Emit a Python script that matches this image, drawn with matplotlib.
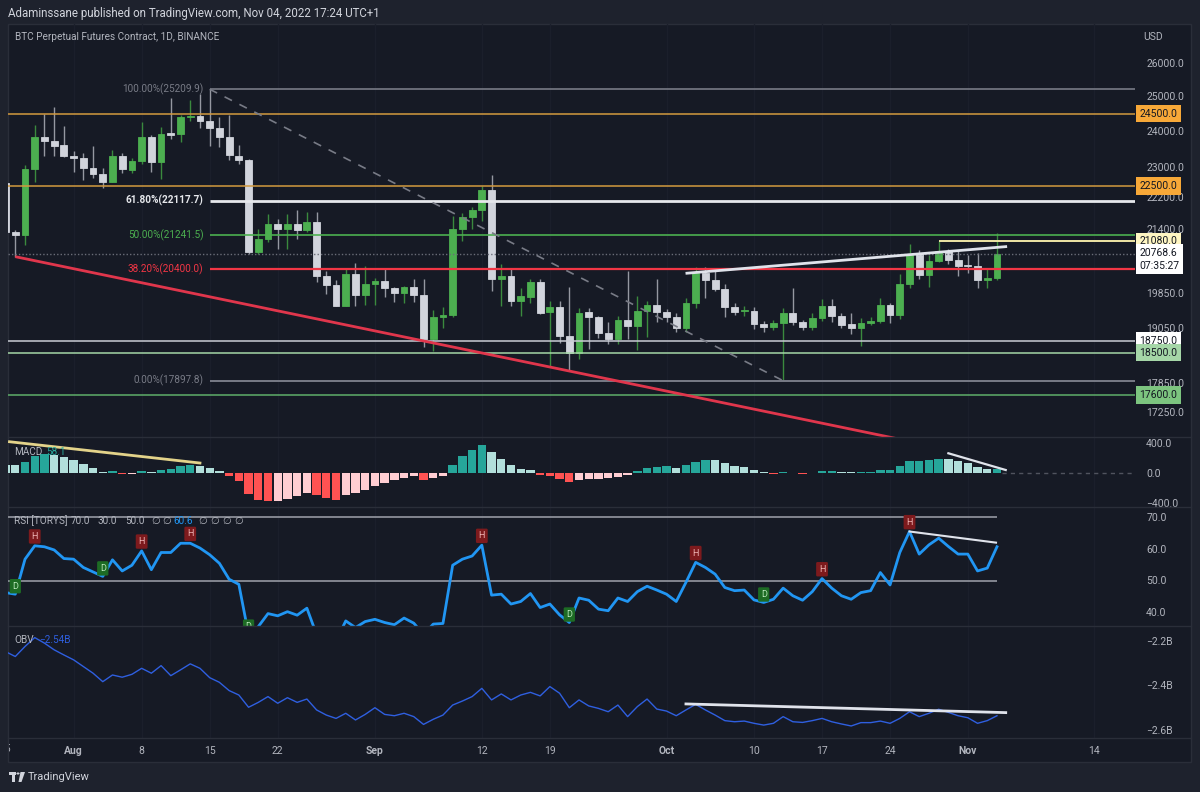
import numpy as np
import matplotlib
matplotlib.use('Agg')
import matplotlib.pyplot as plt
from matplotlib.ticker import FixedLocator, NullLocator, FuncFormatter
from matplotlib.transforms import blended_transform_factory, Bbox
from matplotlib.patches import Rectangle, Polygon, Circle
from matplotlib.lines import Line2D

plt.rcParams['font.family'] = ['Roboto', 'DejaVu Sans']

# ---- daily candles, Jul 25 .. Nov 4 2022 (index 0 = Jul 25) ----
opens = [22580, 21310, 21250, 22950, 23820, 23720, 23620, 23300, 23250, 22980,
         22820, 22610, 23300, 22940, 23180, 23820, 23150, 23940, 23920, 24400,
         24440, 24300, 24080, 23840, 23300, 23200, 20830, 21150, 21520, 21400,
         21520, 21370, 21560, 20250, 20030, 19550, 20280, 19800, 20050, 20130,
         19950, 19830, 19990, 19790, 18790, 19290, 19340, 21380, 21700, 21880,
         22400, 20170, 20230, 19650, 19740, 20090, 19400, 19520, 18870, 18480,
         19400, 19290, 18930, 18800, 19230, 19090, 19420, 19570, 19410, 19300,
         19050, 19620, 20320, 20140, 19940, 19520, 19430, 19430, 19130, 19060,
         19160, 19370, 19180, 19060, 19270, 19540, 19320, 19130, 19040, 19160,
         19210, 19560, 19330, 20050, 20770, 20260, 20590, 20840, 20620, 20500,
         20480, 20150, 20200]
highs = [22650, 21370, 23050, 24170, 24500, 24700, 24150, 23450, 23400, 23580,
         22970, 23460, 23380, 23250, 24250, 23900, 24110, 24950, 24450, 24900,
         25060, 25209.9, 24390, 24450, 23600, 23230, 21380, 21780, 21640, 21760,
         21880, 21820, 21830, 20360, 20150, 20420, 20550, 20480, 20200, 20440,
         19980, 20000, 20180, 20180, 19460, 19520, 21730, 21800, 21950, 22500,
         22790, 20530, 20400, 19950, 20180, 20180, 19650, 19650, 19990, 19500,
         19500, 19320, 19170, 19310, 20370, 19760, 19650, 20180, 19480, 19390,
         19720, 20460, 20460, 20430, 20050, 19620, 19530, 19520, 19200, 19230,
         19500, 19950, 19230, 19380, 19700, 19700, 19380, 19380, 19260, 19290,
         19720, 19620, 20280, 21020, 20880, 20750, 21080, 20900, 20850, 20750,
         20800, 20400, 21280]
lows = [21250, 20700, 21000, 22600, 23300, 23320, 23290, 22880, 22650, 22700,
        22450, 22600, 22850, 22850, 23100, 22880, 22680, 23790, 23700, 24290,
        24080, 23580, 23550, 23200, 23100, 20780, 20760, 21070, 20900, 20900,
        21150, 21320, 20100, 19810, 19550, 19550, 19530, 19560, 19570, 19750,
        19640, 19600, 19640, 18630, 18540, 19050, 19280, 21100, 21380, 21600,
        19880, 19530, 19550, 19320, 19600, 19350, 18200, 18700, 18110, 18350,
        18570, 18810, 18680, 18690, 18800, 18550, 18850, 19180, 19180, 18950,
        18960, 19500, 19730, 19880, 19300, 19330, 19310, 19030, 18960, 18990,
        17897.8, 19100, 18990, 19000, 19200, 19180, 19050, 18900, 18650, 19100,
        19150, 19160, 19250, 19960, 20180, 19970, 20570, 20540, 20250, 20320,
        19950, 19950, 20150]
closes = [21310, 21250, 22950, 23820, 23720, 23580, 23300, 23250, 22980, 22820,
          22610, 23300, 22950, 23180, 23820, 23150, 23920, 23900, 24400, 24440,
          24300, 24080, 23840, 23330, 23200, 20830, 21150, 21520, 21400, 21520,
          21370, 21560, 20250, 20030, 19550, 20280, 19800, 20050, 20130, 19950,
          19830, 19990, 19790, 18790, 19290, 19340, 21380, 21700, 21880, 22400,
          20170, 20230, 19650, 19770, 20090, 19370, 19520, 18870, 18480, 19370,
          19290, 18930, 18800, 19230, 19090, 19420, 19570, 19410, 19300, 19050,
          19620, 20320, 20140, 19940, 19520, 19410, 19440, 19130, 19060, 19160,
          19370, 19170, 19060, 19270, 19540, 19310, 19110, 19050, 19160, 19210,
          19560, 19330, 20050, 20770, 20260, 20590, 20840, 20620, 20480, 20480,
          20140, 20200, 20768.6]

macd_hist = [110, 102, 151, 222, 253, 245, 209, 169, 120, 67,
             13, 22, -12, -10, 31, 9, 40, 58, 89, 102,
             100, 67, 31, -36, -102, -276, -364, -378, -369, -342,
             -311, -267, -298, -333, -356, -298, -267, -222, -169, -133,
             -89, -67, -44, -89, -67, -44, 111, 222, 302, 378,
             276, 191, 111, 58, 44, -22, -36, -80, -120, -95,
             -80, -75, -70, -53, -22, 31, 67, 80, 89, 67,
             102, 147, 178, 169, 133, 98, 76, 40, 13, -9,
             13, 4, -13, -3, 31, 33, 18, 9, 13, 14,
             40, 42, 89, 160, 162, 173, 187, 182, 156, 129,
             80, 49, 58.1]

rsi = [46.2, 45.7, 56.7, 60.9, 60.6, 59.6, 56.9, 56.7, 54.1, 52.7,
       51.3, 56.5, 53.0, 54.8, 59.3, 53.4, 58.8, 58.8, 61.7, 61.7,
       60.2, 58.1, 55.4, 50.4, 48.8, 33.0, 35.5, 39.6, 38.9, 40.2,
       39.1, 41.3, 33.0, 32.0, 31.0, 37.3, 35.2, 37.1, 37.8, 36.8,
       36.1, 38.2, 36.6, 33.0, 36.3, 36.5, 54.8, 56.7, 57.7, 61.1,
       45.4, 45.7, 42.6, 43.4, 45.9, 41.5, 42.6, 39.2, 36.8, 44.5,
       43.8, 41.0, 40.5, 44.5, 43.4, 46.5, 48.2, 47.0, 45.7, 43.4,
       49.4, 55.7, 54.1, 52.0, 47.8, 46.8, 47.0, 43.9, 43.1, 44.1,
       47.6, 45.2, 43.8, 46.5, 50.6, 47.6, 45.2, 44.1, 46.2, 46.8,
       52.5, 48.6, 58.8, 65.4, 58.3, 61.2, 63.3, 60.7, 58.3, 58.3,
       53.0, 53.9, 60.6]
rsi_high_idx = [3, 14, 19, 49, 71, 84, 93]
rsi_low_idx = [1, 10, 25, 58, 78]

obv = [-2.248, -2.270, -2.225, -2.185, -2.210, -2.240, -2.263, -2.285, -2.315, -2.345,
       -2.383, -2.353, -2.363, -2.350, -2.323, -2.345, -2.311, -2.356, -2.330, -2.303,
       -2.323, -2.365, -2.386, -2.423, -2.443, -2.498, -2.476, -2.450, -2.480, -2.455,
       -2.476, -2.461, -2.510, -2.533, -2.548, -2.525, -2.555, -2.530, -2.500, -2.530,
       -2.536, -2.525, -2.540, -2.575, -2.552, -2.533, -2.488, -2.470, -2.450, -2.413,
       -2.465, -2.438, -2.465, -2.443, -2.431, -2.447, -2.405, -2.435, -2.500, -2.465,
       -2.492, -2.503, -2.518, -2.488, -2.540, -2.495, -2.461, -2.506, -2.515, -2.536,
       -2.510, -2.485, -2.510, -2.533, -2.558, -2.563, -2.560, -2.570, -2.578, -2.570,
       -2.540, -2.563, -2.566, -2.558, -2.548, -2.563, -2.573, -2.582, -2.567, -2.567,
       -2.560, -2.570, -2.548, -2.518, -2.540, -2.525, -2.507, -2.521, -2.536, -2.545,
       -2.570, -2.558, -2.536]

date_ticks = [7, 14, 21, 28, 38, 49, 56, 68, 77, 84, 91, 99, 112]
date_labels = ['Aug', '8', '15', '22', 'Sep', '12', '19', 'Oct', '10', '17', '24', 'Nov', '14']
month_labels = ['Aug', 'Sep', 'Oct', 'Nov']

price_ticks = [17250, 17850, 19050, 19850, 21400, 22200, 23000, 24000, 25000, 26000]

# drawing tools on the chart
fib_start = 21
fib_levels = [25209.9, 22117.7, 21241.5, 20400.0, 17897.8]
fib_labels = ['100.00%(25209.9)', '61.80%(22117.7)', '50.00%(21241.5)', '38.20%(20400.0)', '0.00%(17897.8)']
fib_colors = ['#787b86', '#e6e8ec', '#4caf50', '#f23645', '#787b86']
fib_widths = [1.2, 2.0, 1.2, 1.6, 1.4]

levels = [24500, 22500, 18750, 18500, 17600]
level_colors = ['#d39a3f', '#d39a3f', '#c9ccd4', '#a5d6a7', '#5fae6a']
level_boxes = ['#f7a838', '#f7a838', '#ffffff', '#a5d6a7', '#7cc47f']
last_price = 20768.6
countdown = '07:35:27'
res_level, res_start = 21080, 96

red_trend_x, red_trend_y = [1.14, 95], [20700, 16590]
fib_diag_x, fib_diag_y = [21, 80], [25209.9, 17897.8]
white_trend_x, white_trend_y = [70.1, 102.9], [20308, 20952]
macd_yellow_x, macd_yellow_y = [0.4, 20.0], [417, 133]
macd_white_x, macd_white_y = [97.0, 102.9], [263, 40]
rsi_div_x, rsi_div_y = [93, 101.9], [65.4, 61.9]
obv_trend_x, obv_trend_y = [70.0, 102.9], [-2.483, -2.522]

# RSI legend tokens and their left edges (px)
rsi_legend = ['RSI [TORYS]', '70.0', '30.0', '50.0', '\u2205', '\u2205', '60.6',
              '\u2205', '\u2205', '\u2205', '\u2205']
rsi_legend_x = [14, 71, 98, 125, 151, 162, 173, 198, 210, 222, 234]

# ---- colours ----
OUTER = '#1e222d'
PANEL = '#161a25'
BORDER = '#2a2e39'
TXT = '#b2b5be'
UP, UP_WICK = '#4caf50', '#3a8a3e'
DN, DN_WICK = '#d1d4dc', '#9598a1'

W, H = 1200, 792


def fx(px):
    return px / W


def fy(py):
    return 1 - py / H


fig = plt.figure(figsize=(W / 100, H / 100), dpi=100)
fig.patch.set_facecolor(OUTER)
fig.add_artist(Rectangle((fx(8), fy(762)), fx(1191) - fx(8), fy(24) - fy(762),
                         transform=fig.transFigure, facecolor=PANEL, edgecolor=BORDER,
                         lw=1, zorder=-5))


def panel(top, bottom):
    a = fig.add_axes([fx(8), fy(bottom), fx(1135) - fx(8), fy(top) - fy(bottom)])
    a.set_facecolor('none')
    for s in a.spines.values():
        s.set_visible(False)
    a.set_xlim(0.25, 116.2)
    a.tick_params(axis='x', length=0, labelbottom=False)
    a.tick_params(axis='y', length=0, pad=8, labelsize=7.5, labelcolor=TXT)
    a.yaxis.tick_right()
    for t in date_ticks:
        a.axvline(t, color='#1b1f2b', lw=1, zorder=0)
    return a


ax = panel(24, 437)
ax_macd = panel(437, 507)
ax_rsi = panel(507, 626)
ax_obv = panel(626, 738)

for y in [437, 507, 626, 738]:
    fig.add_artist(Line2D([fx(8), fx(1191)], [fy(y), fy(y)], color=BORDER, lw=1,
                          transform=fig.transFigure))

# ---- main price panel ----
x = np.arange(len(closes))
o, c = np.array(opens), np.array(closes)
up = c >= o
ax.vlines(x, lows, highs, colors=[UP_WICK if u else DN_WICK for u in up], lw=1, zorder=3)
body_cols = [UP if u else DN for u in up]
ax.bar(x, np.abs(c - o), bottom=np.minimum(o, c), width=0.7, color=body_cols,
       edgecolor=body_cols, lw=0.6, zorder=4)

ax.set_yscale('log')
ax.set_ylim(16752, 27219)
ax.yaxis.set_major_locator(FixedLocator(price_ticks))
ax.yaxis.set_minor_locator(NullLocator())
ax.yaxis.set_major_formatter(FuncFormatter(lambda v, p: f'{v:.1f}'))
ax.tick_params(axis='y', length=0, pad=8, labelsize=7.5, labelcolor=TXT)

for lv, col in zip(levels, level_colors):
    ax.axhline(lv, color=col, lw=1.1, zorder=5)
for lv, lab, col, lw in zip(fib_levels, fib_labels, fib_colors, fib_widths):
    ax.hlines(lv, fib_start, 116.2, color=col, lw=lw, zorder=5)
    ax.text(fib_start - 0.65, lv, lab, ha='right', va='center', fontsize=7.2, color=col,
            fontweight='bold' if lab.startswith('61') else 'normal', zorder=6)
ax.hlines(res_level, res_start, 116.2, color='#efe6a6', lw=1.4, zorder=5)
ax.axhline(last_price, color='#6a6d78', lw=1, ls=(0, (1, 1.5)), zorder=5)
ax.plot(fib_diag_x, fib_diag_y, color='#787b86', lw=1.2, ls=(0, (5, 5)), zorder=5)
ax.plot(red_trend_x, red_trend_y, color='#e0364c', lw=2, zorder=6)
ax.plot(white_trend_x, white_trend_y, color='#e0e3eb', lw=2, zorder=6)

yt = blended_transform_factory(ax.transAxes, ax.transData)
tag_x = 1 + 4.5 / 1127


def price_tag(val, text, fc):
    ax.text(tag_x, val, text, transform=yt, ha='left', va='center', fontsize=7.5,
            color='#131722', zorder=10,
            bbox=dict(boxstyle='square,pad=0.35', fc=fc, ec='none'))


for lv, fc in zip(levels, level_boxes):
    price_tag(lv, f'{lv:.1f}', fc)
price_tag(res_level, f'{res_level:.1f}', '#fff6c2')
ax.annotate(f'{last_price:.1f}\n{countdown}', xy=(1, last_price), xycoords=yt,
            xytext=(3.2, 4.5), textcoords='offset points', ha='left', va='top',
            fontsize=7.5, color='#131722', linespacing=1.35, zorder=10,
            bbox=dict(boxstyle='square,pad=0.35', fc='#ffffff', ec='none'))

# ---- MACD histogram ----
hist = np.array(macd_hist, dtype=float)
hcols = []
for i, v in enumerate(hist):
    prev = hist[i - 1] if i > 0 else hist[0] + 10
    if v >= 0:
        hcols.append('#26a69a' if v > prev else '#b2dfdb')
    else:
        hcols.append('#ffcdd2' if v > prev else '#ff5252')
ax_macd.bar(x, hist, width=0.86, color=hcols, zorder=3)
ax_macd.hlines(0, len(hist) - 0.5, 116.2, color='#50535e', lw=1, ls=(0, (3, 3)))
ax_macd.plot(macd_yellow_x, macd_yellow_y, color='#e3d38a', lw=2, zorder=4)
ax_macd.plot(macd_white_x, macd_white_y, color='#e0e3eb', lw=1.6, zorder=4)
ax_macd.set_ylim(-453, 480)
ax_macd.set_yticks([-400, 0, 400])
ax_macd.set_yticklabels(['\u2212400.0', '0.0', '400.0'])

# ---- RSI ----
ax_rsi.hlines([70, 50], 0.25, len(rsi) - 1, color='#9598a1', lw=1.2, zorder=2)
ax_rsi.plot(x, rsi, color='#2196f3', lw=2, zorder=3)
ax_rsi.plot(rsi_div_x, rsi_div_y, color='#e0e3eb', lw=1.5, zorder=4)
for idx in rsi_high_idx:
    ax_rsi.annotate('H', xy=(idx, rsi[idx]), xytext=(0, 3.5), textcoords='offset points',
                    ha='center', va='bottom', fontsize=6.5, color='#f2b8b8', zorder=5,
                    annotation_clip=False, clip_on=True,
                    bbox=dict(boxstyle='round,pad=0.3,rounding_size=0.15', fc='#7d1a1d', ec='none'))
for idx in rsi_low_idx:
    ax_rsi.annotate('D', xy=(idx, rsi[idx]), xytext=(0, 2.5), textcoords='offset points',
                    ha='center', va='bottom', fontsize=6.5, color='#b9e6bb', zorder=5,
                    annotation_clip=False, clip_on=True,
                    bbox=dict(boxstyle='round,pad=0.3,rounding_size=0.15', fc='#1d6b24', ec='none'))
ax_rsi.set_ylim(35.7, 73.1)
ax_rsi.set_yticks([40, 50, 60, 70])
ax_rsi.set_yticklabels(['40.0', '50.0', '60.0', '70.0'])

# ---- OBV ----
ax_obv.plot(x, obv, color='#2f5fe0', lw=1, zorder=3)
ax_obv.plot(obv_trend_x, obv_trend_y, color='#e0e3eb', lw=2, zorder=4)
ax_obv.set_ylim(-2.636, -2.133)
ax_obv.set_yticks([-2.6, -2.4, -2.2])
ax_obv.set_yticklabels(['\u22122.6B', '\u22122.4B', '\u22122.2B'])
ax_obv.set_xticks(date_ticks)
ax_obv.set_xticklabels(date_labels)
ax_obv.tick_params(axis='x', labelbottom=True, pad=6, labelsize=7.5, labelcolor=TXT)
for lab in ax_obv.get_xticklabels():
    if lab.get_text() in month_labels:
        lab.set_fontweight('bold')

# clipped first date label (Jul 25)
t25 = fig.text(0, fy(749), '25', fontsize=7.5, color=TXT, ha='center', va='center',
               transform=blended_transform_factory(ax_obv.transData, fig.transFigure))
t25.set_clip_box(Bbox.from_extents(8.5, 0, W, H))
t25.set_clip_on(True)

# ---- header / legends ----
fig.text(fx(8), fy(13), 'Adaminssane published on TradingView.com, Nov 04, 2022 17:24 UTC+1',
         fontsize=8.3, color='#d1d4dc', va='center')
fig.text(fx(15), fy(37), 'BTC Perpetual Futures Contract, 1D, BINANCE', fontsize=7.2,
         color=TXT, va='center')
fig.text(fx(1143), fy(37), 'USD', fontsize=7.5, color=TXT, va='center')

fig.text(fx(14), fy(452), 'MACD', fontsize=7.2, color=TXT, va='center')
fig.text(fx(46), fy(452), f'{macd_hist[-1]:.1f}', fontsize=7.2, color='#26a69a', va='center')

for tok, px in zip(rsi_legend, rsi_legend_x):
    fig.text(fx(px), fy(521), tok, fontsize=7.2, va='center',
             color='#2196f3' if tok == f'{rsi[-1]:.1f}' else TXT)

fig.text(fx(14), fy(640), 'OBV', fontsize=7.2, color=TXT, va='center')
fig.text(fx(39), fy(640), '\u22122.54B', fontsize=7.2, color='#2f5fe0', va='center')

# ---- footer logo ----
fig.add_artist(Rectangle((fx(9), fy(775)), fx(7), fy(772) - fy(775), transform=fig.transFigure,
                         fc='#d1d4dc', ec='none'))
fig.add_artist(Rectangle((fx(12), fy(782)), fx(3), fy(772) - fy(782), transform=fig.transFigure,
                         fc='#d1d4dc', ec='none'))
fig.add_artist(Circle((fx(18), fy(773.5)), 1.6 / W, transform=fig.transFigure,
                      fc='#d1d4dc', ec='none'))
fig.add_artist(Polygon([(fx(20.5), fy(772)), (fx(25), fy(772)), (fx(21.5), fy(782)), (fx(18.5), fy(782))],
                       closed=True, transform=fig.transFigure, fc='#d1d4dc', ec='none'))
fig.text(fx(28), fy(777), 'TradingView', fontsize=8, color='#d1d4dc', va='center')

fig.savefig('out.png', dpi=100, facecolor=OUTER)
